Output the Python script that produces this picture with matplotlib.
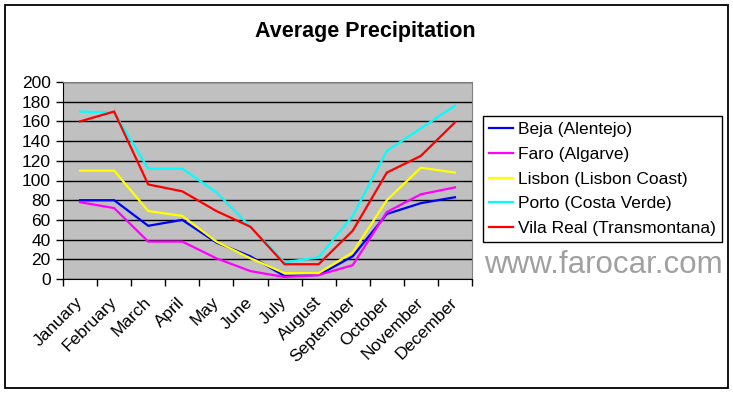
import matplotlib
matplotlib.use("Agg")
import matplotlib.pyplot as plt
from matplotlib.patches import Rectangle

plt.rcParams['font.family'] = ['Liberation Sans', 'DejaVu Sans']

# Monthly precipitation (mm)
months = ['January', 'February', 'March', 'April', 'May', 'June',
          'July', 'August', 'September', 'October', 'November', 'December']
beja = [80, 80, 54, 60, 37, 23, 3, 4, 23, 66, 77, 83]
faro = [78, 72, 38, 38, 21, 8, 2, 4, 14, 68, 86, 93]
lisbon = [110, 110, 69, 64, 38, 21, 6, 6, 27, 80, 113, 108]
porto = [170, 169, 112, 112, 88, 53, 17, 22, 64, 130, 153, 176]
vila_real = [160, 170, 96, 89, 69, 53, 15, 15, 49, 108, 125, 159]

series = [
    ('Beja (Alentejo)', beja, '#0000FF'),
    ('Faro (Algarve)', faro, '#FF00FF'),
    ('Lisbon (Lisbon Coast)', lisbon, '#FFFF00'),
    ('Porto (Costa Verde)', porto, '#00FFFF'),
    ('Vila Real (Transmontana)', vila_real, '#FF0000'),
]

W, H = 733, 393
fig = plt.figure(figsize=(W / 100, H / 100), dpi=100)
fig.patch.set_facecolor('white')

# plot area in pixels: x 63..472, y 82..279
ax = fig.add_axes([63 / W, 1 - 279 / H, (472 - 63) / W, (279 - 82) / H])
ax.set_facecolor('#C0C0C0')

x = list(range(len(months)))
for name, vals, col in series:
    ax.plot(x, vals, color=col, lw=1.6, label=name, solid_joinstyle='miter')

ax.set_xlim(-0.5, len(months) - 0.5)
ax.set_ylim(0, 200)
ax.set_yticks(range(0, 201, 20))
ax.yaxis.grid(True, color='black', lw=1)
ax.set_axisbelow(True)

# tick marks between categories, labels centred on categories
ax.set_xticks([i - 0.5 for i in range(len(months) + 1)])
ax.set_xticklabels([])
ax.set_xticks(x, minor=True)
ax.set_xticklabels(months, minor=True, rotation=45, ha='right', va='center',
                   rotation_mode='anchor', fontsize=12.5)
ax.tick_params(axis='x', which='minor', length=0, pad=15)
ax.tick_params(axis='x', which='major', length=5, width=1, direction='out')
ax.tick_params(axis='y', length=5, width=1, direction='out', labelsize=12.5, pad=4)

for s in ['top', 'right']:
    ax.spines[s].set_color('#808080')
for s in ['left', 'bottom']:
    ax.spines[s].set_color('black')

fig.text(365 / W, 1 - 32 / H, 'Average Precipitation', ha='center', va='center',
         fontsize=15.5, fontweight='bold')

leg = fig.legend(loc='upper left', bbox_to_anchor=(483 / W, 1 - 116 / H),
                 bbox_transform=fig.transFigure, borderaxespad=0,
                 fancybox=False, edgecolor='black', framealpha=1,
                 fontsize=12.5, handlelength=1.4, handletextpad=0.25,
                 labelspacing=0.55, borderpad=0.35)
leg.get_frame().set_linewidth(1)

fig.text(603 / W, 1 - 265 / H, 'www.farocar.com', ha='center', va='center',
         fontsize=22.5, color='#A0A0A0')

fig.patches.append(Rectangle((5 / W, 5 / H), 723 / W, 383 / H,
                             transform=fig.transFigure, fill=False,
                             edgecolor='black', lw=1.3))

fig.savefig('out.png', dpi=100)
